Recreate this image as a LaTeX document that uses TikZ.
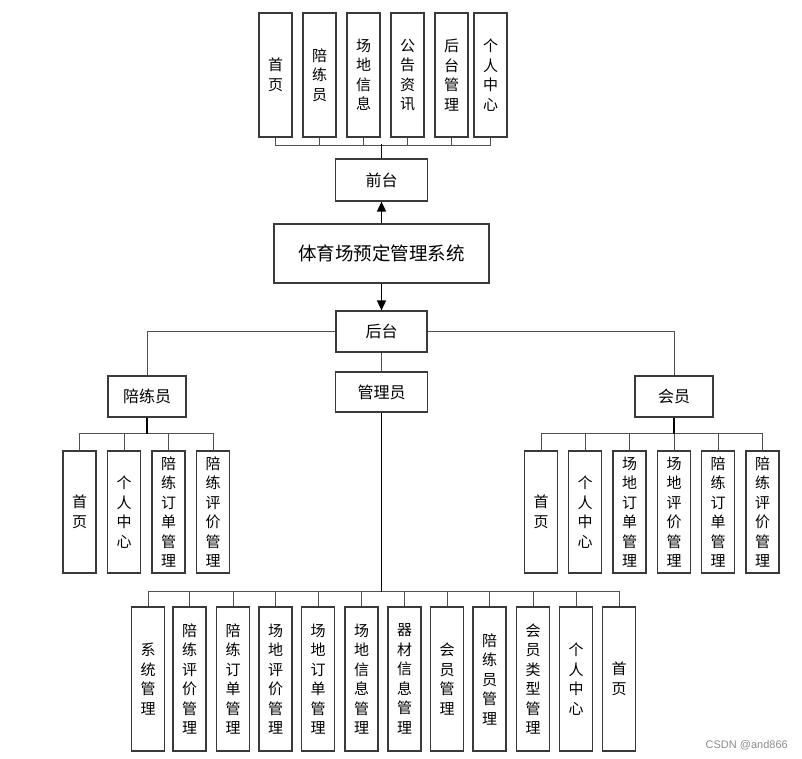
\documentclass[tikz,border=0pt]{standalone}
\usepackage{fontspec}
\newfontfamily\cjk{Noto Sans CJK SC}[Scale=1.0]
\newfontfamily\wmfont{Liberation Sans}
\usetikzlibrary{arrows.meta}
\definecolor{boxc}{HTML}{3A3A3A}
\definecolor{linec}{HTML}{505050}
\tikzset{
  box/.style={draw=boxc, line width=1.2pt, fill=white, inner sep=0pt, align=center,
    font=\cjk\fontsize{15}{19.5}\selectfont},
  vbox/.style={box, minimum width=33pt, minimum height=#1},
  hbox/.style={box, font=\cjk\fontsize{16}{18}\selectfont},
  conn/.style={draw=linec, line width=1pt},
  stem/.style={draw=black, line width=1.8pt},
  arr/.style={draw=black, line width=1.6pt, -{Triangle[width=9pt,length=10pt]}}
}
\begin{document}
\begin{tikzpicture}[x=1pt,y=-1pt]
\useasboundingbox (0,0) rectangle (802,758);
% top level
\node[hbox, minimum width=215pt, minimum height=59pt, font=\cjk\fontsize{18.5}{20}\selectfont] (sys) at (381.5,253.5) {体育场预定管理系统};
\node[hbox, minimum width=92pt, minimum height=42pt] (qt) at (381.5,180) {前台};
\node[hbox, minimum width=91pt, minimum height=41pt] (ht) at (381.5,331.5) {后台};
\node[hbox, minimum width=92pt, minimum height=40pt] (gly) at (381.5,392) {管理员};
\node[hbox, minimum width=78pt, minimum height=41pt] (plyr) at (147,396.5) {陪练员};
\node[hbox, minimum width=78pt, minimum height=41pt] (hy) at (674,396.5) {会员};
\draw[arr] (sys.north) -- (qt.south);
\draw[arr] (sys.south) -- (ht.north);
\draw[conn] (ht.south) -- (gly.north);
\draw[conn] (ht.west) -| (plyr.north);
\draw[conn] (ht.east) -| (hy.north);
% front children
\foreach \n/\x/\t in {q1/275.5/首\\页, q2/319.5/陪\\练\\员, q3/363.5/场\\地\\信\\息, q4/407.5/公\\告\\资\\讯, q5/451.5/后\\台\\管\\理, q6/490.5/个\\人\\中\\心}{
  \node[vbox=124pt] (\n) at (\x,75) {\t};
  \draw[conn] (\n.south) -- ++(0,8) -| (qt.north);
}
\draw[stem] (qt.north) -- ++(0,-14);
% coach children
\foreach \n/\x/\t in {p1/79.5/首\\页, p2/124/个\\人\\中\\心, p3/168.5/陪\\练\\订\\单\\管\\理, p4/213/陪\\练\\评\\价\\管\\理}{
  \node[vbox=122pt] (\n) at (\x,512) {\t};
  \draw[conn] (plyr.south) -- ++(0,16) -| (\n.north);
}
\draw[stem] (plyr.south) -- ++(0,16);
% member children
\foreach \n/\x/\t in {h1/541/首\\页, h2/585/个\\人\\中\\心, h3/629.5/场\\地\\订\\单\\管\\理, h4/674/场\\地\\评\\价\\管\\理, h5/718/陪\\练\\订\\单\\管\\理, h6/762.5/陪\\练\\评\\价\\管\\理}{
  \node[vbox=122pt] (\n) at (\x,512) {\t};
  \draw[conn] (hy.south) -- ++(0,16) -| (\n.north);
}
\draw[stem] (hy.south) -- ++(0,16);
% admin children
\foreach \n/\x/\t in {g1/148/系\\统\\管\\理, g2/189.5/陪\\练\\评\\价\\管\\理, g3/233/陪\\练\\订\\单\\管\\理, g4/275.5/场\\地\\评\\价\\管\\理, g5/318/场\\地\\订\\单\\管\\理, g6/361.5/场\\地\\信\\息\\管\\理, g7/404.5/器\\材\\信\\息\\管\\理, g8/447/会\\员\\管\\理, g9/489.5/陪\\练\\员\\管\\理, g10/533/会\\员\\类\\型\\管\\理, g11/576/个\\人\\中\\心, g12/619/首\\页}{
  \node[vbox=144pt] (\n) at (\x,679) {\t};
  \draw[conn] (gly.south) -- ++(0,179) -| (\n.north);
}
\draw[stem] (gly.south) -- ++(0,179);
\node[text=black!45, font=\wmfont\fontsize{11}{13}\selectfont, anchor=east, inner sep=0pt] (wm) at (788,745) {CSDN @and866};
\end{tikzpicture}
\end{document}
